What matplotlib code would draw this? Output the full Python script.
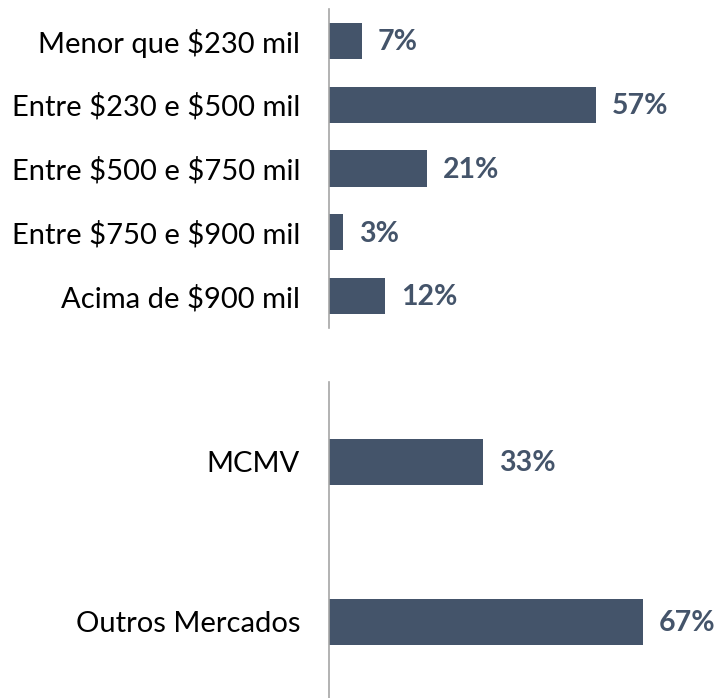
import matplotlib.pyplot as plt

plt.rcParams['text.parse_math'] = False

# dados
faixas = ['Menor que $230 mil', 'Entre $230 e $500 mil', 'Entre $500 e $750 mil',
          'Entre $750 e $900 mil', 'Acima de $900 mil']
faixas_pct = [7, 57, 21, 3, 12]

mercados = ['MCMV', 'Outros Mercados']
mercados_pct = [33, 67]

cor = '#44546A'
fonte = 'Lato'

fig = plt.figure(figsize=(7.19, 6.98), dpi=100)
W, H = 719, 698
x0 = 329
px_por_pct = 4.68
xmax = (W - x0) / px_por_pct


def painel(y_top, y_bot, cats, vals, bar_h, ylim):
    ax = fig.add_axes([x0 / W, 1 - y_bot / H, (W - x0) / W, (y_bot - y_top) / H])
    pos = list(range(len(cats)))
    ax.barh(pos, vals, height=bar_h, color=cor)
    ax.set_xlim(0, xmax)
    ax.set_ylim(*ylim)
    ax.set_yticks(pos)
    ax.set_yticklabels(cats, fontsize=21, family=fonte, color='black')
    ax.tick_params(axis='y', length=0, pad=29 * 0.72)
    ax.set_xticks([])
    for s in ['top', 'right', 'bottom']:
        ax.spines[s].set_visible(False)
    ax.spines['left'].set_color('#A6A6A6')
    ax.spines['left'].set_linewidth(1.2)
    for p, v in zip(pos, vals):
        ax.annotate('%d%%' % v, (v, p), xytext=(16 * 0.72, -1), textcoords='offset points',
                    va='center', ha='left', fontsize=20.5, fontweight='bold',
                    family=fonte, color=cor, annotation_clip=False)
    return ax


painel(9, 328, faixas, faixas_pct, 0.567, (4.5, -0.5))
painel(382, 698, mercados, mercados_pct, 0.285, (1.475, -0.5))

fig.savefig('out.png', dpi=100)
